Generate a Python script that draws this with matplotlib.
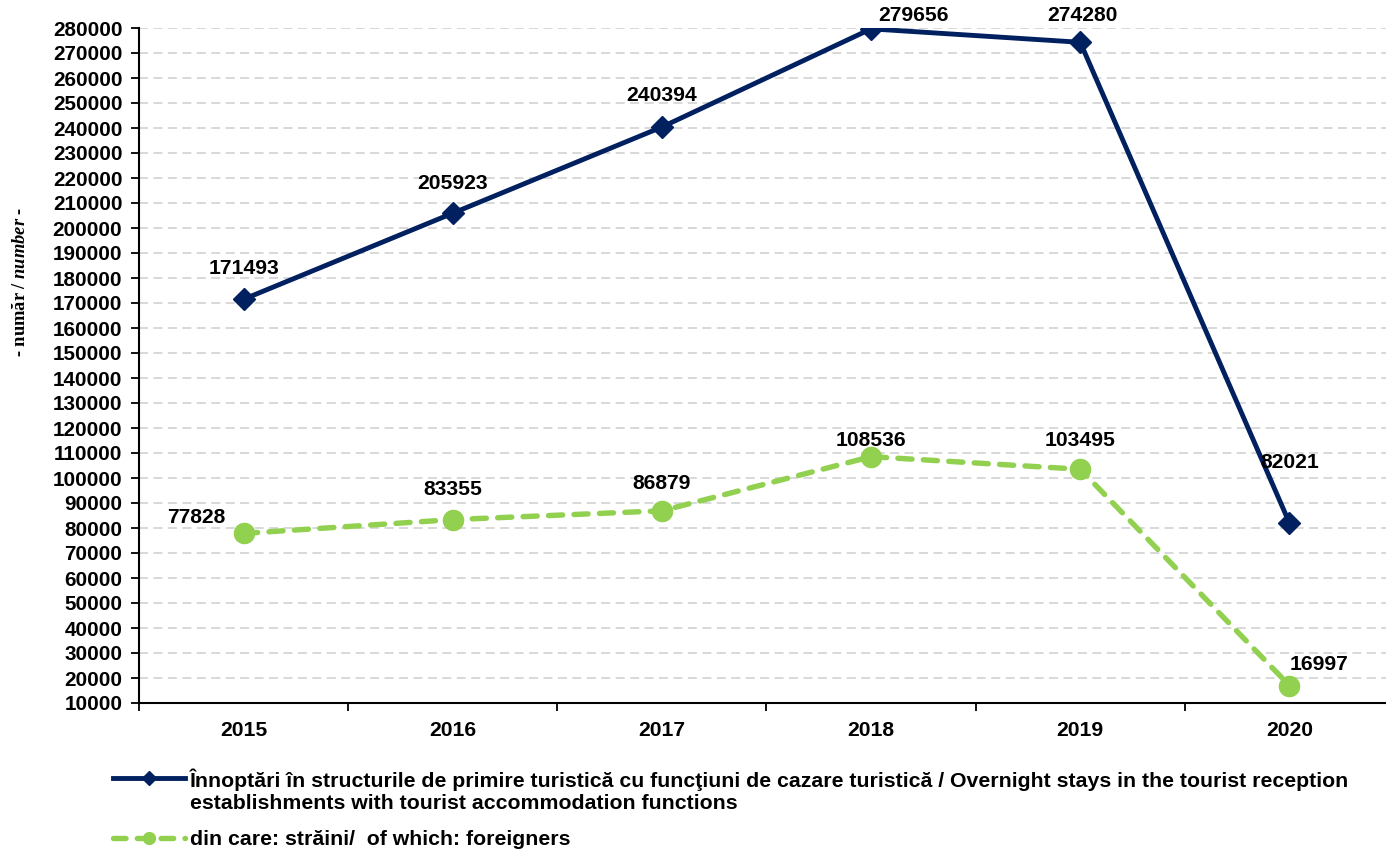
import matplotlib
matplotlib.use("Agg")
import matplotlib.pyplot as plt
from matplotlib.lines import Line2D
from matplotlib.legend_handler import HandlerLine2D

years = ["2015", "2016", "2017", "2018", "2019", "2020"]
total_stays = [171493, 205923, 240394, 279656, 274280, 82021]
foreign_stays = [77828, 83355, 86879, 108536, 103495, 16997]
y_ticks = list(range(10000, 280001, 10000))

label_total = ("Înnoptări în structurile de primire turistică cu funcţiuni de cazare turistică / "
               "Overnight stays in the tourist reception\nestablishments with tourist accommodation functions")
label_foreign = "din care: străini/  of which: foreigners"

NAVY = "#002060"
GREEN = "#92D050"

plt.rcParams["font.family"] = ["Liberation Sans", "DejaVu Sans"]
plt.rcParams["mathtext.fontset"] = "custom"
plt.rcParams["mathtext.it"] = "Liberation Serif:italic:bold"
plt.rcParams["mathtext.rm"] = "Liberation Serif:bold"

fig = plt.figure(figsize=(13.86, 8.5), dpi=100)
ax = fig.add_axes([139 / 1386, 1 - 703 / 850, (1394 - 139) / 1386, (703 - 28) / 850])

GREEN_DASH = (0, (2.6, 2.1))
x = list(range(len(years)))
ax.plot(x, total_stays, color=NAVY, lw=3.5, marker="D", ms=11.5, mfc=NAVY, mec=NAVY,
        zorder=4, solid_joinstyle="miter")
ax.plot(x, foreign_stays, color=GREEN, lw=3.9, ls=GREEN_DASH, marker="o", ms=14.5,
        mfc=GREEN, mec=GREEN, zorder=3, dash_capstyle="round")

ax.set_xlim(-0.5, len(years) - 0.5)
ax.set_ylim(10000, 280000)
ax.set_yticks(y_ticks)
ax.set_yticklabels([str(v) for v in y_ticks])
ax.set_xticks(x)
ax.set_xticklabels(years)
ax.set_xticks([i - 0.5 for i in range(len(years) + 1)], minor=True)
ax.tick_params(axis="x", which="major", length=0, pad=13)
ax.tick_params(axis="x", which="minor", length=6, width=1.3, direction="out")
ax.tick_params(axis="y", which="major", length=6, width=1.3, direction="out", pad=6)
for lab in ax.get_yticklabels():
    lab.set_fontsize(14.9)
    lab.set_fontweight("bold")
for lab in ax.get_xticklabels():
    lab.set_fontsize(15.2)
    lab.set_fontweight("bold")

ax.grid(axis="y", color="#D5D5D5", ls=(0, (5, 3)), lw=1.3)
ax.set_axisbelow(True)
for s in ["top", "right"]:
    ax.spines[s].set_visible(False)
ax.spines["left"].set_linewidth(1.5)
ax.spines["bottom"].set_linewidth(1.5)

fig.text(21 / 1386, 1 - 282 / 850, r"- număr / $\mathit{number}$ -", rotation=90,
         ha="center", va="center", fontfamily="Liberation Serif", fontweight="bold",
         fontsize=13.3)

off_total = [(0, 31), (0, 30), (0, 32), (42, 13), (2, 27), (0, 60)]
off_foreign = [(-47, 16), (0, 30), (0, 27), (0, 16), (0, 29), (30, 21)]
for i, v in enumerate(total_stays):
    ax.annotate(str(v), (x[i], v), xytext=off_total[i], textcoords="offset pixels",
                ha="center", va="center", fontsize=15.2, fontweight="bold", zorder=6)
for i, v in enumerate(foreign_stays):
    ax.annotate(str(v), (x[i], v), xytext=off_foreign[i], textcoords="offset pixels",
                ha="center", va="center", fontsize=15.2, fontweight="bold", zorder=6)


class TopLineHandler(HandlerLine2D):
    def __init__(self, shift, **kw):
        super().__init__(**kw)
        self.shift = shift

    def create_artists(self, legend, orig_handle, xdescent, ydescent, width, height,
                       fontsize, trans):
        arts = super().create_artists(legend, orig_handle, xdescent, ydescent, width,
                                      height, fontsize, trans)
        for a in arts:
            a.set_ydata([yy + self.shift for yy in a.get_ydata()])
        return arts


LEG_FS = 15.3
h1 = Line2D([], [], color=NAVY, lw=3.5, marker="D", ms=7.5)
h2 = Line2D([], [], color=GREEN, lw=3.9, ls=(0, (2.3, 2.1)), marker="o", ms=8.5,
            dash_capstyle="round")
leg = fig.legend([h1, h2], [label_total, label_foreign], loc="upper left",
                 bbox_to_anchor=(104 / 1386, 1 - 760 / 850), frameon=False,
                 prop={"weight": "bold", "size": LEG_FS}, handlelength=3.4,
                 handletextpad=0.25, labelspacing=0.8, borderaxespad=0,
                 handler_map={h1: TopLineHandler(shift=0.58 * LEG_FS)})

fig.savefig("out.png", dpi=100)
